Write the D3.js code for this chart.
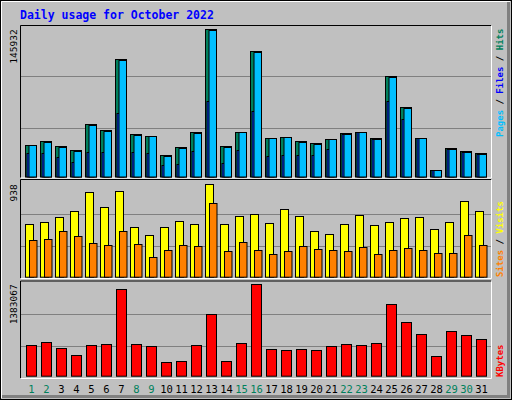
<!DOCTYPE html>
<html>
<head>
<meta charset="utf-8">
<script src="https://cdn.jsdelivr.net/npm/d3@7/dist/d3.min.js"></script>
<style>
  body { margin: 0; background: #fff; }
  svg { display: block; }
</style>
</head>
<body>
<div id="chart"></div>
<script>
const days = d3.range(1, 32);
const weekend = [1, 2, 8, 9, 15, 16, 22, 23, 29, 30];

const hits = [31020, 34980, 30030, 26070, 51810, 45870, 116160, 41910, 39930, 21120, 29040, 43890, 145932, 30030, 43890, 124080,
  37950, 38940, 34980, 33000, 36960, 42900, 43890, 37950, 99330, 68640, 37950, 6270, 28050, 25080, 23100];
const pages = [31020, 33990, 29040, 25080, 50820, 44880, 115170, 40920, 39930, 20130, 28050, 42900, 145600, 29040, 43890, 123090,
  37950, 38940, 33990, 32010, 36960, 41910, 43890, 36960, 98340, 67650, 37950, 6270, 27060, 24090, 22110];
const files = [23100, 23100, 19140, 14190, 24090, 24090, 62700, 24090, 23100, 11220, 12210, 25080, 74580, 13200, 26070, 64680,
  20130, 21120, 21120, 21120, 27060, 41910, 43890, 36960, 74580, 56760, 37950, 6270, 27060, 24090, 22110];
const visits = [532, 552, 603, 664, 857, 704, 867, 501, 420, 501, 562, 532, 938, 532, 613, 633,
  542, 684, 613, 460, 430, 532, 623, 521, 552, 593, 603, 481, 552, 765, 664];
const sites = [369, 379, 460, 410, 339, 318, 460, 328, 196, 267, 318, 308, 745, 257, 349, 267,
  227, 257, 308, 278, 267, 257, 298, 227, 267, 288, 267, 237, 237, 420, 318];
const kbytes = [459000, 505000, 414000, 308000, 459000, 474000, 1307000, 474000, 444000, 202000, 217000, 459000, 929000, 217000, 490000, 1383067,
  399000, 384000, 399000, 384000, 444000, 474000, 459000, 490000, 1080000, 808000, 626000, 293000, 671000, 611000, 550000];

const W = 512, H = 400;
const svg = d3.select("#chart").append("svg").attr("width", W).attr("height", H);

// background with bevel
svg.append("rect").attr("width", W).attr("height", H).attr("fill", "#c0c0c0");
svg.append("rect").attr("x", 0.5).attr("y", 0.5).attr("width", W - 1).attr("height", H - 1)
    .attr("fill", "none").attr("stroke", "#000");
svg.append("path").attr("d", `M1.5,${H - 2}V1.5H${W - 2}`).attr("stroke", "#fff").attr("fill", "none");
svg.append("path").attr("d", `M${W - 3.5},2V${H - 3.5}H2`).attr("stroke", "#808080").attr("stroke-width", 3).attr("fill", "none");

svg.append("text").attr("x", 20).attr("y", 19)
    .attr("font-family", "DejaVu Sans Mono").attr("font-weight", "bold").attr("font-size", 11.5)
    .attr("fill", "#0000ff").text("Daily usage for October 2022");

const x = d3.scaleLinear().domain([1, 31]).range([25, 25 + 30 * 15]);
const left = 20, right = 491;

const panels = [
  {top: 25, bottom: 177.5, base: 176.5, max: 145932, maxY: 29.3},
  {top: 179, bottom: 278, base: 276.7, max: 938, maxY: 184.3},
  {top: 280.5, bottom: 378, base: 375.7, max: 1383067, maxY: 284.3},
];
panels.forEach((p) => {
  p.y = d3.scaleLinear().domain([0, p.max]).range([p.base, p.maxY]);
  const g = svg.append("g");
  g.append("path").attr("d", `M${left + 0.5},${p.bottom}V${p.top + 0.5}H${right}`)
      .attr("stroke", "#000").attr("fill", "none");
  g.append("path").attr("d", `M${left + 1},${p.bottom + 0.5}H${right + 0.5}V${p.top + 1}`)
      .attr("stroke", "#fff").attr("fill", "none");
  [0.33, 0.68].forEach((f) => {
    const yy = Math.round(p.y(p.max * f)) + 0.5;
    g.append("line").attr("x1", left + 1).attr("x2", right).attr("y1", yy).attr("y2", yy)
        .attr("stroke", "#808080");
  });
  svg.append("text")
      .attr("transform", `translate(17,${p.maxY}) rotate(-90)`)
      .attr("text-anchor", "end").attr("font-family", "DejaVu Sans Mono").attr("font-size", 9.5)
      .text(p.max);
});

function bars(data, panel, dx, w, color) {
  svg.append("g").selectAll("rect").data(data).join("rect")
      .attr("x", (d, i) => x(days[i]) + dx + 0.5)
      .attr("y", (d) => Math.round(panel.y(d)) + 0.5)
      .attr("width", w)
      .attr("height", (d) => panel.base - Math.round(panel.y(d)))
      .attr("fill", color).attr("stroke", "#000");
}

bars(hits, panels[0], 0, 11, "#00805c");
bars(files, panels[0], 1.5, 7, "#0040ff");
bars(pages, panels[0], 3.5, 7.5, "#00bfff");
bars(visits, panels[1], 0, 8, "#ffff00");
bars(sites, panels[1], 4, 7.5, "#ff8000");
bars(kbytes, panels[2], 1, 10, "#ff0000");

// right legends
function legend(y, parts) {
  const t = svg.append("text")
      .attr("transform", `translate(503,${y}) rotate(-90)`)
      .attr("font-family", "DejaVu Sans Mono").attr("font-weight", "bold").attr("font-size", 9);
  parts.forEach(([s, c]) => t.append("tspan").attr("fill", c).text(s));
}
legend(137, [["Pages", "#00bfff"], [" / ", "#000"], ["Files", "#0000ff"], [" / ", "#000"], ["Hits", "#00805c"]]);
legend(277, [["Sites", "#ff8000"], [" / ", "#000"], ["Visits", "#ffff00"]]);
legend(377, [["KBytes", "#ff0000"]]);

svg.append("g").selectAll("text").data(days).join("text")
    .attr("x", (d) => x(d) + 6.5).attr("y", 393)
    .attr("text-anchor", "middle").attr("font-family", "DejaVu Sans Mono").attr("font-size", 10.5)
    .attr("fill", (d) => weekend.includes(d) ? "#00805c" : "#000")
    .text((d) => d);
</script>
</body>
</html>
